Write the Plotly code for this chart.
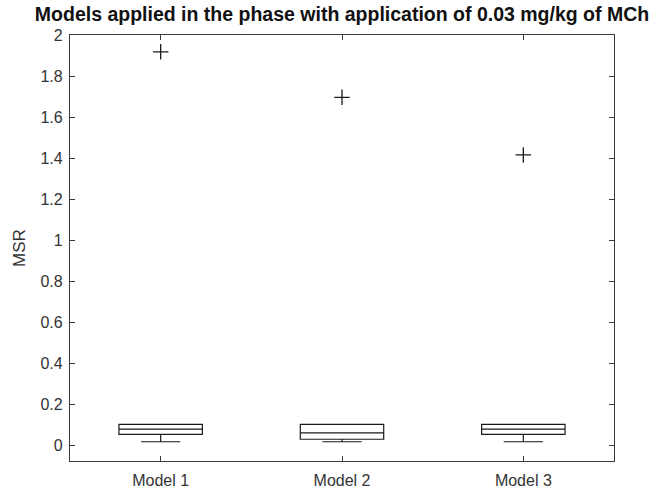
import plotly.graph_objects as go

categories = ["Model 1", "Model 2", "Model 3"]
q1 = [0.052, 0.028, 0.052]
median = [0.077, 0.059, 0.077]
q3 = [0.101, 0.101, 0.101]
lower_whisker = [0.016, 0.016, 0.016]
upper_whisker = [0.101, 0.101, 0.101]
outliers = [1.918, 1.696, 1.415]
y_ticks = [0, 0.2, 0.4, 0.6, 0.8, 1, 1.2, 1.4, 1.6, 1.8, 2]
y_ticktext = ["0", "0.2", "0.4", "0.6", "0.8", "1", "1.2", "1.4", "1.6", "1.8", "2"]

fig = go.Figure()
fig.add_trace(go.Box(
    x=categories, q1=q1, median=median, q3=q3,
    lowerfence=lower_whisker, upperfence=upper_whisker,
    width=0.46, whiskerwidth=0.47,
    line=dict(color="#1a1a1a", width=1.2),
    fillcolor="rgba(255,255,255,0)",
    boxpoints=False, showlegend=False, hoverinfo="skip",
))
fig.add_trace(go.Scatter(
    x=categories, y=outliers, mode="markers",
    marker=dict(symbol="cross-thin", size=11, line=dict(color="#1a1a1a", width=1.3)),
    showlegend=False, hoverinfo="skip",
))

axis_col = "#3a3a3a"
fig.update_layout(
    width=652, height=490,
    margin=dict(l=70, r=38, t=35, b=29),
    paper_bgcolor="white", plot_bgcolor="white",
    font=dict(family="Liberation Sans, Arial, sans-serif", size=16, color="#333333"),
    title=dict(text="<b>Models applied in the phase with application of 0.03 mg/kg of MCh</b>",
               x=0.5, xref="paper", xanchor="center", y=1 - 14 / 490, yanchor="middle",
               font=dict(size=19.5, color="#111111")),
    xaxis=dict(
        type="category", range=[-0.5, 2.5], showgrid=False, zeroline=False,
        showline=True, linecolor=axis_col, linewidth=1.3, mirror="ticks",
        ticks="inside", ticklen=5, tickcolor=axis_col, tickwidth=1.2,
        ticklabelstandoff=5, automargin=False,
        tickfont=dict(size=16, color="#333333"),
    ),
    yaxis=dict(
        range=[-0.078, 2.0], showgrid=False, zeroline=False,
        showline=True, linecolor=axis_col, linewidth=1.3, mirror="ticks",
        ticks="inside", ticklen=5, tickcolor=axis_col, tickwidth=1.2,
        ticklabelstandoff=3, automargin=False,
        tickvals=y_ticks, ticktext=y_ticktext,
        tickfont=dict(size=16, color="#333333"),
        title=dict(text="MSR", font=dict(size=17, color="#333333"), standoff=10),
    ),
)

fig.write_html("out.html")
